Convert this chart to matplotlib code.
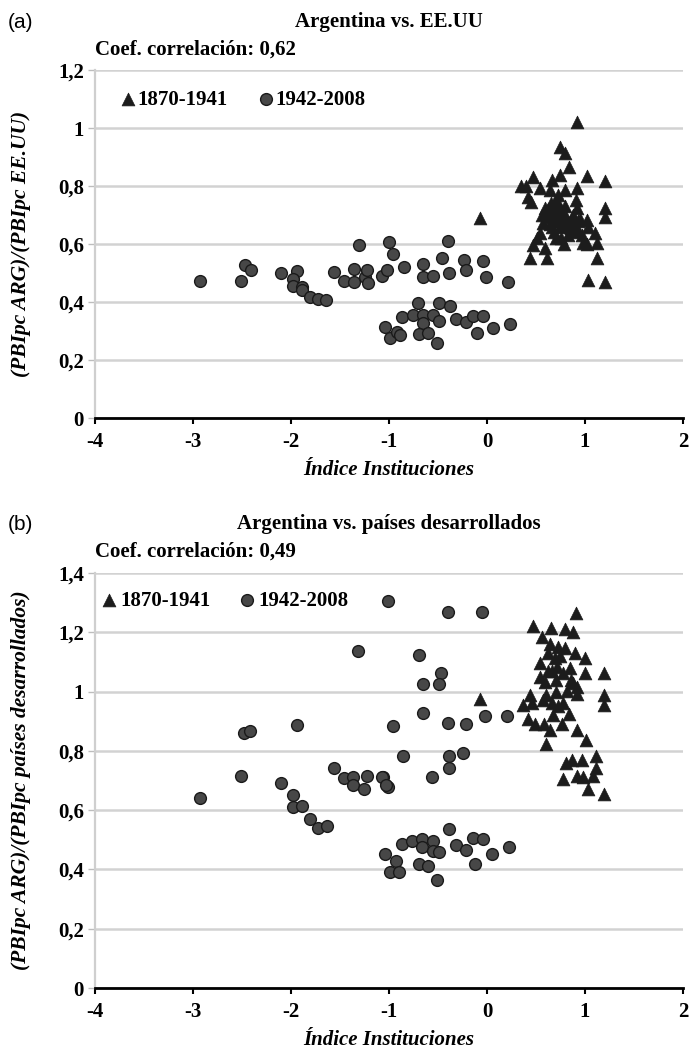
import numpy as np
import matplotlib.pyplot as plt

plt.rcParams['font.family'] = ['Liberation Serif', 'DejaVu Serif']
plt.rcParams['font.weight'] = 'bold'

# ---------------- data: panel (a) Argentina vs EE.UU ----------------
a_tri_x = [-0.07, 0.915, 0.74, 0.80, 0.84, 0.47, 1.02, 1.20, 0.35, 0.40, 0.54, 0.66,
           0.745, 0.64, 0.80, 0.915, 0.42, 0.445, 0.908, 0.59, 0.69, 0.915, 1.20, 1.20,
           0.61, 0.73, 0.81, 0.86, 0.95, 1.02, 0.575, 0.66, 0.78, 0.86, 0.93, 1.03,
           1.10, 0.54, 0.51, 0.79, 0.98, 1.12, 1.02, 0.47, 0.59, 0.44, 0.61, 1.12,
           1.03, 1.20, 0.70, 0.75, 0.83, 0.68, 0.56, 0.72, 0.89, 0.97, 0.65,
           0.62, 0.66, 0.70, 0.74, 0.78, 0.82, 0.85, 0.88, 0.76, 0.70, 0.64, 0.90,
           0.93, 0.72, 0.80]
a_tri_y = [0.69, 1.022, 0.936, 0.915, 0.867, 0.83, 0.834, 0.818, 0.80, 0.80, 0.792, 0.82,
           0.838, 0.786, 0.786, 0.792, 0.761, 0.746, 0.752, 0.723, 0.74, 0.723, 0.723, 0.694,
           0.694, 0.70, 0.694, 0.683, 0.686, 0.683, 0.671, 0.66, 0.666, 0.654, 0.65, 0.66,
           0.637, 0.637, 0.62, 0.60, 0.602, 0.602, 0.60, 0.597, 0.585, 0.551, 0.551, 0.551,
           0.476, 0.47, 0.72, 0.68, 0.63, 0.64, 0.70, 0.77, 0.64, 0.63, 0.74,
           0.72, 0.70, 0.68, 0.66, 0.70, 0.68, 0.66, 0.70, 0.62, 0.62, 0.67, 0.66,
           0.68, 0.74, 0.73]

a_cir_x = [-2.93, -2.51, -2.47, -2.41, -2.10, -1.94, -1.98, -1.98, -1.89, -1.89, -1.81,
           -1.72, -1.64, -1.56, -1.46, -1.36, -1.36, -1.31, -1.245, -1.22, -1.21, -1.075,
           -1.02, -1.00, -0.956, -0.847, -0.65, -0.65, -0.555, -0.463, -0.395, -0.385,
           -0.235, -0.21, -0.045, -0.015, 0.21,
           -1.04, -0.99, -0.92, -0.888, -0.87, -0.76, -0.70, -0.656, -0.656, -0.69, -0.60,
           -0.548, -0.487, -0.487, -0.507, -0.378, -0.316, -0.21, -0.147, -0.037, -0.105,
           0.058, 0.235]
a_cir_y = [0.473, 0.473, 0.528, 0.510, 0.499, 0.508, 0.478, 0.456, 0.453, 0.44, 0.418,
           0.41, 0.407, 0.505, 0.473, 0.514, 0.47, 0.597, 0.485, 0.512, 0.467, 0.49,
           0.51, 0.606, 0.566, 0.52, 0.531, 0.485, 0.491, 0.551, 0.61, 0.501,
           0.545, 0.51, 0.54, 0.485, 0.468,
           0.315, 0.275, 0.298, 0.286, 0.349, 0.355, 0.398, 0.355, 0.327, 0.29, 0.292,
           0.355, 0.395, 0.336, 0.258, 0.386, 0.34, 0.332, 0.352, 0.352, 0.294,
           0.311, 0.324]

# ---------------- data: panel (b) Argentina vs paises desarrollados ----------------
b_tri_x = [-0.071, 0.905, 0.466, 0.653, 0.796, 0.881, 0.565, 0.643, 0.728, 0.796, 0.898,
           1.00, 0.541, 0.694, 0.711, 1.197, 0.779, 1.00, 0.541, 0.592, 0.915, 0.813,
           0.915, 1.197, 1.197, 0.439, 0.364, 0.456, 0.575, 0.66, 0.779, 0.677, 0.837,
           0.421, 0.49, 0.585, 0.643, 0.762, 0.599, 0.915, 1.007, 0.803, 0.864, 0.966,
           1.112, 1.112, 0.772, 0.915, 0.983, 1.085, 1.027, 1.197, 0.62, 0.70, 0.86,
           0.62, 0.66, 0.70, 0.74, 0.60, 0.85, 0.88, 0.72]
b_tri_y = [0.974, 1.264, 1.221, 1.214, 1.21, 1.20, 1.183, 1.159, 1.152, 1.146, 1.129,
           1.112, 1.095, 1.112, 1.084, 1.061, 1.061, 1.061, 1.05, 1.033, 1.016, 1.001,
           0.993, 0.987, 0.954, 0.987, 0.954, 0.96, 0.97, 0.963, 0.963, 0.92, 0.925,
           0.908, 0.889, 0.892, 0.869, 0.892, 0.824, 0.869, 0.835, 0.759, 0.769, 0.769,
           0.781, 0.742, 0.705, 0.716, 0.711, 0.716, 0.671, 0.654, 1.07, 1.04, 1.04,
           1.13, 1.07, 1.00, 1.12, 0.99, 1.08, 1.03, 0.95]

b_cir_x = [-1.007, -0.401, -0.054, -1.313, -0.694, -0.469, -0.656, -0.493, -0.656, -2.476,
           -2.418, -1.942, -0.962, -0.401, -0.214, -0.02, 0.201, -0.854, -0.391, -0.242,
           -0.391, -0.564, -1.058, -1.007,
           -2.929, -2.51, -2.102, -1.983, -1.976, -1.89, -1.806, -1.72, -1.636, -1.56,
           -1.459, -1.37, -1.37, -1.255, -1.22, -1.075, -1.03,
           -1.041, -0.929, -0.99, -0.895, -0.87, -0.762, -0.667, -0.667, -0.555, -0.548,
           -0.487, -0.69, -0.599, -0.507, -0.385, -0.316, -0.214, -0.147, -0.122, -0.044,
           0.228, 0.047]
b_cir_y = [1.304, 1.267, 1.267, 1.137, 1.123, 1.061, 1.027, 1.027, 0.928, 0.861,
           0.866, 0.886, 0.883, 0.895, 0.892, 0.916, 0.916, 0.781, 0.781, 0.792,
           0.742, 0.713, 0.711, 0.677,
           0.64, 0.716, 0.69, 0.652, 0.609, 0.615, 0.569, 0.541, 0.545, 0.741,
           0.707, 0.711, 0.685, 0.671, 0.714, 0.711, 0.685,
           0.451, 0.43, 0.392, 0.392, 0.485, 0.496, 0.502, 0.474, 0.496, 0.462,
           0.459, 0.417, 0.411, 0.366, 0.536, 0.481, 0.465, 0.507, 0.42, 0.504,
           0.474, 0.451]

xticks = [-4, -3, -2, -1, 0, 1, 2]
yticks_a = [0, 0.2, 0.4, 0.6, 0.8, 1.0, 1.2]
ylabels_a = ['0', '0,2', '0,4', '0,6', '0,8', '1', '1,2']
yticks_b = [0, 0.2, 0.4, 0.6, 0.8, 1.0, 1.2, 1.4]
ylabels_b = ['0', '0,2', '0,4', '0,6', '0,8', '1', '1,2', '1,4']

W, H = 691, 1050
fig = plt.figure(figsize=(W / 100, H / 100), dpi=100)


def px_axes(l, t, r, b):
    return fig.add_axes([l / W, 1 - b / H, (r - l) / W, (b - t) / H])


def style(ax, yticks, ylabels, ymax, ylabel, xlab_y, ylab_x):
    ax.set_xlim(-4, 2)
    ax.set_ylim(0, ymax)
    ax.set_xticks(xticks)
    ax.set_xticklabels([str(t) for t in xticks])
    ax.set_yticks(yticks)
    ax.set_yticklabels(ylabels)
    ax.grid(axis='y', color='#d2d2d2', lw=1.8)
    ax.set_axisbelow(True)
    for s in ['top', 'right']:
        ax.spines[s].set_visible(False)
    ax.spines['left'].set_color('#cfcfcf')
    ax.spines['left'].set_linewidth(1.6)
    ax.spines['bottom'].set_color('black')
    ax.spines['bottom'].set_linewidth(2)
    ax.spines['bottom'].set_zorder(5)
    ax.tick_params(axis='y', colors='#bdbdbd', labelcolor='black', length=5, width=1,
                   pad=3, labelsize=15)
    ax.tick_params(axis='x', colors='black', length=4, width=1.5, pad=6, labelsize=15)
    ax.set_xlabel('Índice Instituciones', fontsize=15, fontstyle='italic', fontweight='bold')
    ax.xaxis.set_label_coords(0.5, xlab_y)
    ax.xaxis.label.set_va('center')
    ax.set_ylabel(ylabel, fontsize=15.5, fontstyle='italic', fontweight='bold')
    ax.yaxis.set_label_coords(ylab_x, 0.5)
    ax.yaxis.label.set_va('center')


# ---------------- panel (a) ----------------
ax1 = px_axes(95, 70, 683, 418)
h1 = ax1.scatter(a_tri_x, a_tri_y, marker='^', s=85, color='#1c1c1c', edgecolor='#1c1c1c',
                 lw=0.5, zorder=3, label='1870-1941')
h2 = ax1.scatter(a_cir_x, a_cir_y, marker='o', s=72, color='#474747', edgecolor='#1a1a1a',
                 lw=1, zorder=3, label='1942-2008')
style(ax1, yticks_a, ylabels_a, 1.2, '(PBIpc ARG)/(PBIpc EE.UU)', -0.15, -0.125)
ax1.legend(handles=[h1, h2], ncol=2, frameon=False, loc='center left',
           bbox_to_anchor=(0.042, 0.914), borderpad=0, borderaxespad=0,
           handlelength=0.8, handletextpad=0.05, columnspacing=1.43, fontsize=15)
fig.text(8 / W, 1 - 22 / H, '(a)', fontsize=15, family='Liberation Sans',
         fontweight='normal', va='center', ha='left')
fig.text(389 / W, 1 - 22 / H, 'Argentina vs. EE.UU', fontsize=15, ha='center', va='center')
fig.text(95 / W, 1 - 50 / H, 'Coef. correlación: 0,62', fontsize=15, ha='left', va='center')

# ---------------- panel (b) ----------------
ax2 = px_axes(95, 573, 683, 988)
g1 = ax2.scatter(b_tri_x, b_tri_y, marker='^', s=85, color='#1c1c1c', edgecolor='#1c1c1c',
                 lw=0.5, zorder=3, label='1870-1941')
g2 = ax2.scatter(b_cir_x, b_cir_y, marker='o', s=72, color='#474747', edgecolor='#1a1a1a',
                 lw=1, zorder=3, label='1942-2008')
style(ax2, yticks_b, ylabels_b, 1.4, '(PBIpc ARG)/(PBIpc países desarrollados)', -0.125, -0.125)
ax2.legend(handles=[g1, g2], ncol=2, frameon=False, loc='center left',
           bbox_to_anchor=(0.0097, 0.933), borderpad=0, borderaxespad=0,
           handlelength=0.8, handletextpad=0.15, columnspacing=1.33, fontsize=15)
fig.text(8 / W, 1 - 524 / H, '(b)', fontsize=15, family='Liberation Sans',
         fontweight='normal', va='center', ha='left')
fig.text(389 / W, 1 - 524 / H, 'Argentina vs. países desarrollados', fontsize=15,
         ha='center', va='center')
fig.text(95 / W, 1 - 552 / H, 'Coef. correlación: 0,49', fontsize=15, ha='left', va='center')

fig.savefig('out.png', dpi=100)
